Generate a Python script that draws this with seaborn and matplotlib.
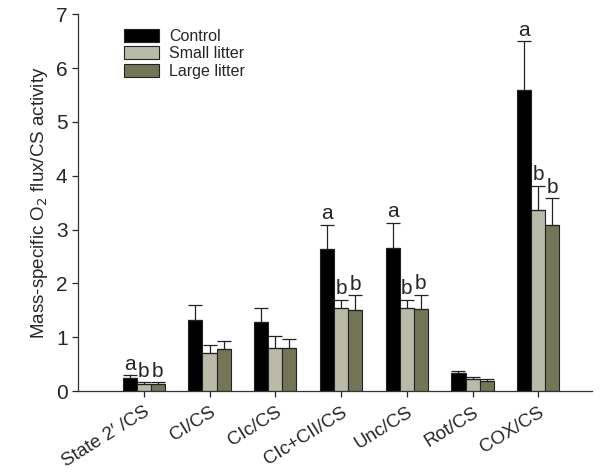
import numpy as np
import pandas as pd
import matplotlib
matplotlib.use("Agg")
import matplotlib.pyplot as plt
import seaborn as sns

categories = ["State 2\u2032 /CS", "CI/CS", "CIc/CS", "CIc+CII/CS", "Unc/CS", "Rot/CS", "COX/CS"]
groups = ["Control", "Small litter", "Large litter"]

control = [0.24, 1.32, 1.29, 2.63, 2.66, 0.33, 5.60]
small = [0.14, 0.71, 0.80, 1.54, 1.55, 0.22, 3.36]
large = [0.14, 0.78, 0.80, 1.51, 1.52, 0.19, 3.08]

control_err = [0.05, 0.27, 0.26, 0.46, 0.47, 0.04, 0.90]
small_err = [0.02, 0.15, 0.22, 0.15, 0.15, 0.05, 0.45]
large_err = [0.02, 0.15, 0.17, 0.27, 0.27, 0.03, 0.50]

# significance letters, one per bar ('' = none)
control_letters = ["a", "", "", "a", "a", "", "a"]
small_letters = ["b", "", "", "b", "b", "", "b"]
large_letters = ["b", "", "", "b", "b", "", "b"]

colors = ["#000000", "#b9baa8", "#737556"]

df = pd.DataFrame({
    "category": categories * 3,
    "group": [g for g in groups for _ in categories],
    "value": control + small + large,
    "err": control_err + small_err + large_err,
    "letter": control_letters + small_letters + large_letters,
})

sns.set_theme(style="ticks")
plt.rcParams["font.family"] = ["Liberation Sans", "DejaVu Sans"]

fig = plt.figure(figsize=(6, 4.74), dpi=100)
ax = fig.add_axes([0.13, 0.175, 0.857, 0.795])

sns.barplot(data=df, x="category", y="value", hue="group", palette=colors,
            width=0.64, errorbar=None, edgecolor="#222222", linewidth=0.8,
            saturation=1, ax=ax)

# upper error bars and letters
for container, g in zip(ax.containers, groups):
    sub = df[df["group"] == g]
    for bar, (_, row) in zip(container, sub.iterrows()):
        xc = bar.get_x() + bar.get_width() / 2
        ax.errorbar(xc, row["value"], yerr=[[0], [row["err"]]], fmt="none",
                    ecolor="#222222", elinewidth=0.9, capsize=5, capthick=0.9)
        if row["letter"]:
            ax.text(xc, row["value"] + row["err"] + 0.03, row["letter"],
                    ha="center", va="bottom", fontsize=15)

ax.set_xlim(-1.0, 6.82)
ax.set_ylim(0, 7)
ax.set_yticks(range(0, 8))
ax.set_xlabel("")
ax.set_ylabel("Mass-specific O$_2$ flux/CS activity", fontsize=13.5)
ax.tick_params(axis="y", labelsize=15, direction="out", length=4, width=0.9)
ax.tick_params(axis="x", labelsize=13.5, direction="out", length=4, width=0.9, pad=5)
plt.setp(ax.get_xticklabels(), rotation=32, ha="right", rotation_mode="anchor")
for s in ["top", "right"]:
    ax.spines[s].set_visible(False)
for s in ["left", "bottom"]:
    ax.spines[s].set_color("#333333")
    ax.spines[s].set_linewidth(0.9)

ax.legend(loc="upper left", bbox_to_anchor=(0.062, 1.0), frameon=False,
          fontsize=11.5, handlelength=2.2, handleheight=0.9,
          labelspacing=0.15, handletextpad=0.6)

fig.savefig("out.png", dpi=100)
